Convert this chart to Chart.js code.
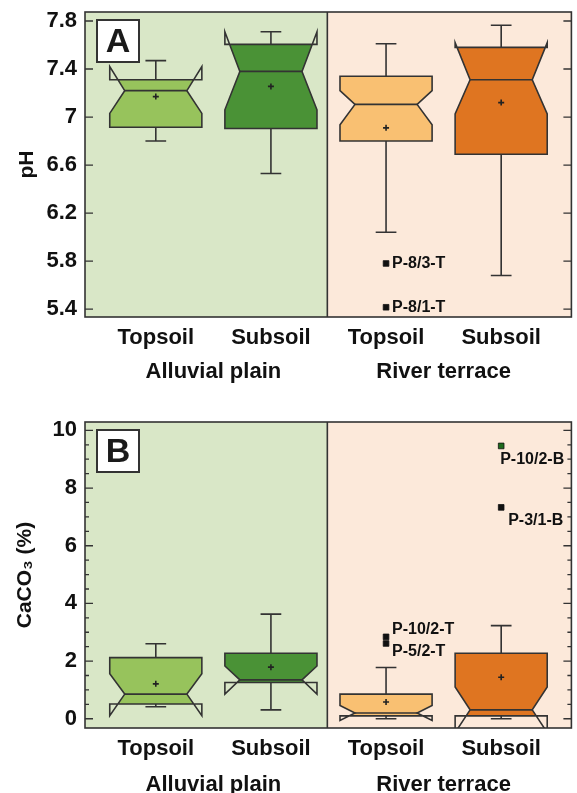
<!DOCTYPE html>
<html><head><meta charset="utf-8">
<script src="https://cdn.jsdelivr.net/npm/chart.js@4/dist/chart.umd.min.js"></script>
<style>
html,body{margin:0;padding:0;width:577px;height:793px;overflow:hidden;background:#fff}
canvas{position:absolute;left:0}
#a{top:0}
#b{top:410px}
</style></head><body>
<canvas id="a" width="577" height="396"></canvas>
<canvas id="b" width="577" height="396"></canvas>
<script>
// ---------- data ----------
const categories = ['Topsoil', 'Subsoil', 'Topsoil', 'Subsoil'];
const categoryPos = [0, 1, 2, 3];
const groups = ['Alluvial plain', 'River terrace'];
const groupPos = [0.5, 2.5];
const groupSplit = 1.49;

// Panel A: pH
const phTicks = [5.4, 5.8, 6.2, 6.6, 7.0, 7.4, 7.8];
const phWhiskerLow  = [6.80, 6.53, 6.04, 5.68];
const phQ1          = [6.915, 6.905, 6.80, 6.69];
const phMedian      = [7.22, 7.38, 7.105, 7.31];
const phQ3          = [7.31, 7.605, 7.34, 7.58];
const phWhiskerHigh = [7.47, 7.71, 7.61, 7.765];
const phMean        = [7.17, 7.255, 6.91, 7.12];
const phNotchLow    = [7.03, 7.06, 6.935, 7.025];
const phNotchHigh   = [7.42, 7.71, 7.22, 7.62];
const phOutlierX    = [2, 2];
const phOutlierY    = [5.78, 5.415];
const phOutlierLabels = ['P-8/3-T', 'P-8/1-T'];

// Panel B: CaCO3 (%)
const caTicks = [0, 2, 4, 6, 8, 10];
const caMinorTicks = [0.5, 1, 1.5, 2.5, 3, 3.5, 4.5, 5, 5.5, 6.5, 7, 7.5, 8.5, 9, 9.5];
const caWhiskerLow  = [0.415, 0.31, 0.0, 0.0];
const caQ1          = [0.51, 1.26, 0.10, 0.10];
const caMedian      = [0.855, 1.35, 0.20, 0.31];
const caQ3          = [2.12, 2.27, 0.855, 2.27];
const caWhiskerHigh = [2.60, 3.63, 1.78, 3.23];
const caMean        = [1.21, 1.79, 0.58, 1.44];
const caNotchLow    = [0.11, 0.855, -0.06, -0.48];
const caNotchHigh   = [1.56, 1.83, 0.46, 1.10];
const caOutlierX    = [2, 2, 3, 3];
const caOutlierY    = [2.84, 2.61, 9.46, 7.33];
const caOutlierLabels = ['P-10/2-T', 'P-5/2-T', 'P-10/2-B', 'P-3/1-B'];

// ---------- styles ----------
const boxColors = ['#97c35c', '#4a9236', '#f9c072', '#df7521'];
const bgColors = ['#d9e7c7', '#fce9da'];
const lineColor = '#333333';
const FONT = '"Liberation Sans", Arial, sans-serif';
const BOX_HALF = 0.4, NOTCH_HALF = 0.27, CAP_HALF = 0.09;

function boxPlugin(p) {
  return {
    id: 'boxes_' + p.letter,
    beforeDatasetsDraw(chart) {
      const {ctx, chartArea: ca, scales: {x, y}} = chart;
      ctx.save();
      const xs = x.getPixelForValue(groupSplit);
      ctx.fillStyle = bgColors[0];
      ctx.fillRect(ca.left, ca.top, xs - ca.left, ca.bottom - ca.top);
      ctx.fillStyle = bgColors[1];
      ctx.fillRect(xs, ca.top, ca.right - xs, ca.bottom - ca.top);
      ctx.beginPath(); ctx.rect(ca.left, ca.top, ca.right - ca.left, ca.bottom - ca.top); ctx.clip();
      ctx.strokeStyle = lineColor; ctx.lineWidth = 1.6; ctx.lineJoin = 'miter';
      for (let i = 0; i < categories.length; i++) {
        const c = categoryPos[i];
        const xl = x.getPixelForValue(c - BOX_HALF), xr = x.getPixelForValue(c + BOX_HALF);
        const nl = x.getPixelForValue(c - NOTCH_HALF), nr = x.getPixelForValue(c + NOTCH_HALF);
        const cx = x.getPixelForValue(c);
        const cl = x.getPixelForValue(c - CAP_HALF), cr = x.getPixelForValue(c + CAP_HALF);
        const yq1 = y.getPixelForValue(p.q1[i]), yq3 = y.getPixelForValue(p.q3[i]);
        const ym = y.getPixelForValue(p.median[i]);
        const ynl = y.getPixelForValue(p.notchLow[i]), ynh = y.getPixelForValue(p.notchHigh[i]);
        const ywl = y.getPixelForValue(p.wLow[i]), ywh = y.getPixelForValue(p.wHigh[i]);
        ctx.beginPath();
        ctx.moveTo(cx, yq3); ctx.lineTo(cx, ywh);
        ctx.moveTo(cl, ywh); ctx.lineTo(cr, ywh);
        ctx.moveTo(cx, yq1); ctx.lineTo(cx, ywl);
        ctx.moveTo(cl, ywl); ctx.lineTo(cr, ywl);
        ctx.stroke();
        const path = () => {
          ctx.beginPath();
          ctx.moveTo(xl, yq3); ctx.lineTo(xr, yq3); ctx.lineTo(xr, ynh); ctx.lineTo(nr, ym);
          ctx.lineTo(xr, ynl); ctx.lineTo(xr, yq1); ctx.lineTo(xl, yq1); ctx.lineTo(xl, ynl);
          ctx.lineTo(nl, ym); ctx.lineTo(xl, ynh); ctx.closePath();
        };
        ctx.save();
        ctx.beginPath(); ctx.rect(xl, Math.min(yq1, yq3), xr - xl, Math.abs(yq1 - yq3)); ctx.clip();
        path(); ctx.fillStyle = boxColors[i]; ctx.fill('evenodd');
        ctx.restore();
        path(); ctx.stroke();
        ctx.beginPath(); ctx.moveTo(nl, ym); ctx.lineTo(nr, ym); ctx.stroke();
      }
      ctx.restore();
    },
    afterDatasetsDraw(chart) {
      const {ctx, chartArea: ca, scales: {x, y}} = chart;
      ctx.save();
      ctx.fillStyle = '#111';
      ctx.font = 'bold 16px ' + FONT;
      ctx.textAlign = 'left'; ctx.textBaseline = 'middle';
      p.outLabels.forEach((t, i) => {
        const [dx, dy] = p.labelOffsets[i];
        ctx.fillText(t, x.getPixelForValue(p.outX[i]) + dx, y.getPixelForValue(p.outY[i]) + dy);
      });
      ctx.strokeStyle = lineColor; ctx.lineWidth = 1.6;
      const xs = x.getPixelForValue(groupSplit);
      ctx.beginPath(); ctx.moveTo(xs, ca.top); ctx.lineTo(xs, ca.bottom); ctx.stroke();
      ctx.strokeRect(ca.left, ca.top, ca.right - ca.left, ca.bottom - ca.top);
      ctx.lineWidth = 1.3;
      ctx.beginPath();
      p.ticks.forEach(v => {
        const py = y.getPixelForValue(v);
        ctx.moveTo(ca.left, py); ctx.lineTo(ca.left + 8, py);
        ctx.moveTo(ca.right, py); ctx.lineTo(ca.right - 8, py);
      });
      p.minor.forEach(v => {
        const py = y.getPixelForValue(v);
        ctx.moveTo(ca.left, py); ctx.lineTo(ca.left + 4, py);
        ctx.moveTo(ca.right, py); ctx.lineTo(ca.right - 4, py);
      });
      ctx.stroke();
      const bx = ca.left + 12, by = ca.top + 8, bw = 42, bh = 42;
      ctx.fillStyle = '#fff'; ctx.fillRect(bx, by, bw, bh);
      ctx.lineWidth = 2; ctx.strokeRect(bx, by, bw, bh);
      ctx.fillStyle = '#1a1a1a'; ctx.font = 'bold 34px ' + FONT;
      ctx.textAlign = 'center'; ctx.textBaseline = 'middle';
      ctx.fillText(p.letter, bx + bw / 2, by + bh / 2 + 2);
      ctx.restore();
    }
  };
}

function makeChart(id, p) {
  const tickFont = {family: FONT, size: 22, weight: 'bold'};
  return new Chart(document.getElementById(id), {
    type: 'scatter',
    data: {
      datasets: [
        {
          data: p.mean.map((v, i) => ({x: categoryPos[i], y: v})),
          pointStyle: 'cross', pointRadius: 3, borderColor: '#222', borderWidth: 1.6
        },
        {
          data: p.outX.map((v, i) => ({x: v, y: p.outY[i]})),
          pointStyle: 'rect', pointRadius: 4, backgroundColor: p.outFill, borderColor: '#111', borderWidth: 0.8
        }
      ]
    },
    options: {
      responsive: false, animation: false, devicePixelRatio: 1,
      layout: {padding: {top: 12, right: 5, left: 0, bottom: 0}},
      plugins: {legend: {display: false}, tooltip: {enabled: false}},
      scales: {
        x: {
          type: 'linear', position: 'bottom', min: -0.615, max: 3.61, weight: 0,
          afterBuildTicks: s => { s.ticks = categoryPos.map(v => ({value: v})); },
          afterFit: s => { s.height = 34; s.paddingLeft = 0; s.paddingRight = 0; },
          grid: {display: false, drawTicks: false}, border: {display: false},
          ticks: {callback: (v, i) => categories[i], font: tickFont, color: '#111', padding: 8, maxRotation: 0, autoSkip: false}
        },
        x2: {
          type: 'linear', position: 'bottom', min: -0.615, max: 3.61, weight: 1,
          afterBuildTicks: s => { s.ticks = groupPos.map(v => ({value: v})); },
          afterFit: s => { s.height = p.x2h; s.paddingLeft = 0; s.paddingRight = 0; },
          grid: {display: false, drawTicks: false}, border: {display: false},
          ticks: {callback: (v, i) => groups[i], font: tickFont, color: '#111', padding: p.x2pad, maxRotation: 0, autoSkip: false}
        },
        y: {
          type: 'linear', position: 'left', min: p.min, max: p.max,
          afterBuildTicks: s => { s.ticks = p.ticks.map(v => ({value: v})); },
          afterFit: s => { s.width = 85; s.paddingTop = 0; s.paddingBottom = 0; },
          grid: {display: false, drawTicks: false}, border: {display: false},
          ticks: {callback: v => String(+v.toFixed(1)), font: tickFont, color: '#111', padding: 8, autoSkip: false},
          title: {display: true, text: p.title, font: {family: FONT, size: 21, weight: 'bold'}, color: '#111', padding: {top: p.titlePad}}
        }
      }
    },
    plugins: [boxPlugin(p)]
  });
}

makeChart('a', {
  letter: 'A', title: 'pH', titlePad: 15, min: 5.334, max: 7.875, x2h: 45, x2pad: 8,
  ticks: phTicks, minor: [],
  wLow: phWhiskerLow, q1: phQ1, median: phMedian, q3: phQ3, wHigh: phWhiskerHigh,
  mean: phMean, notchLow: phNotchLow, notchHigh: phNotchHigh,
  outX: phOutlierX, outY: phOutlierY, outLabels: phOutlierLabels,
  outFill: ['#111', '#111'],
  labelOffsets: [[6, 0], [6, 0]]
});

makeChart('b', {
  letter: 'B', title: 'CaCO\u2083 (%)', titlePad: 13, min: -0.32, max: 10.29, x2h: 44, x2pad: 10,
  ticks: caTicks, minor: caMinorTicks,
  wLow: caWhiskerLow, q1: caQ1, median: caMedian, q3: caQ3, wHigh: caWhiskerHigh,
  mean: caMean, notchLow: caNotchLow, notchHigh: caNotchHigh,
  outX: caOutlierX, outY: caOutlierY, outLabels: caOutlierLabels,
  outFill: ['#111', '#111', '#1d6b1d', '#111'],
  labelOffsets: [[6, -7], [6, 8], [-1, 14], [7, 13]]
});
</script>
</body></html>
